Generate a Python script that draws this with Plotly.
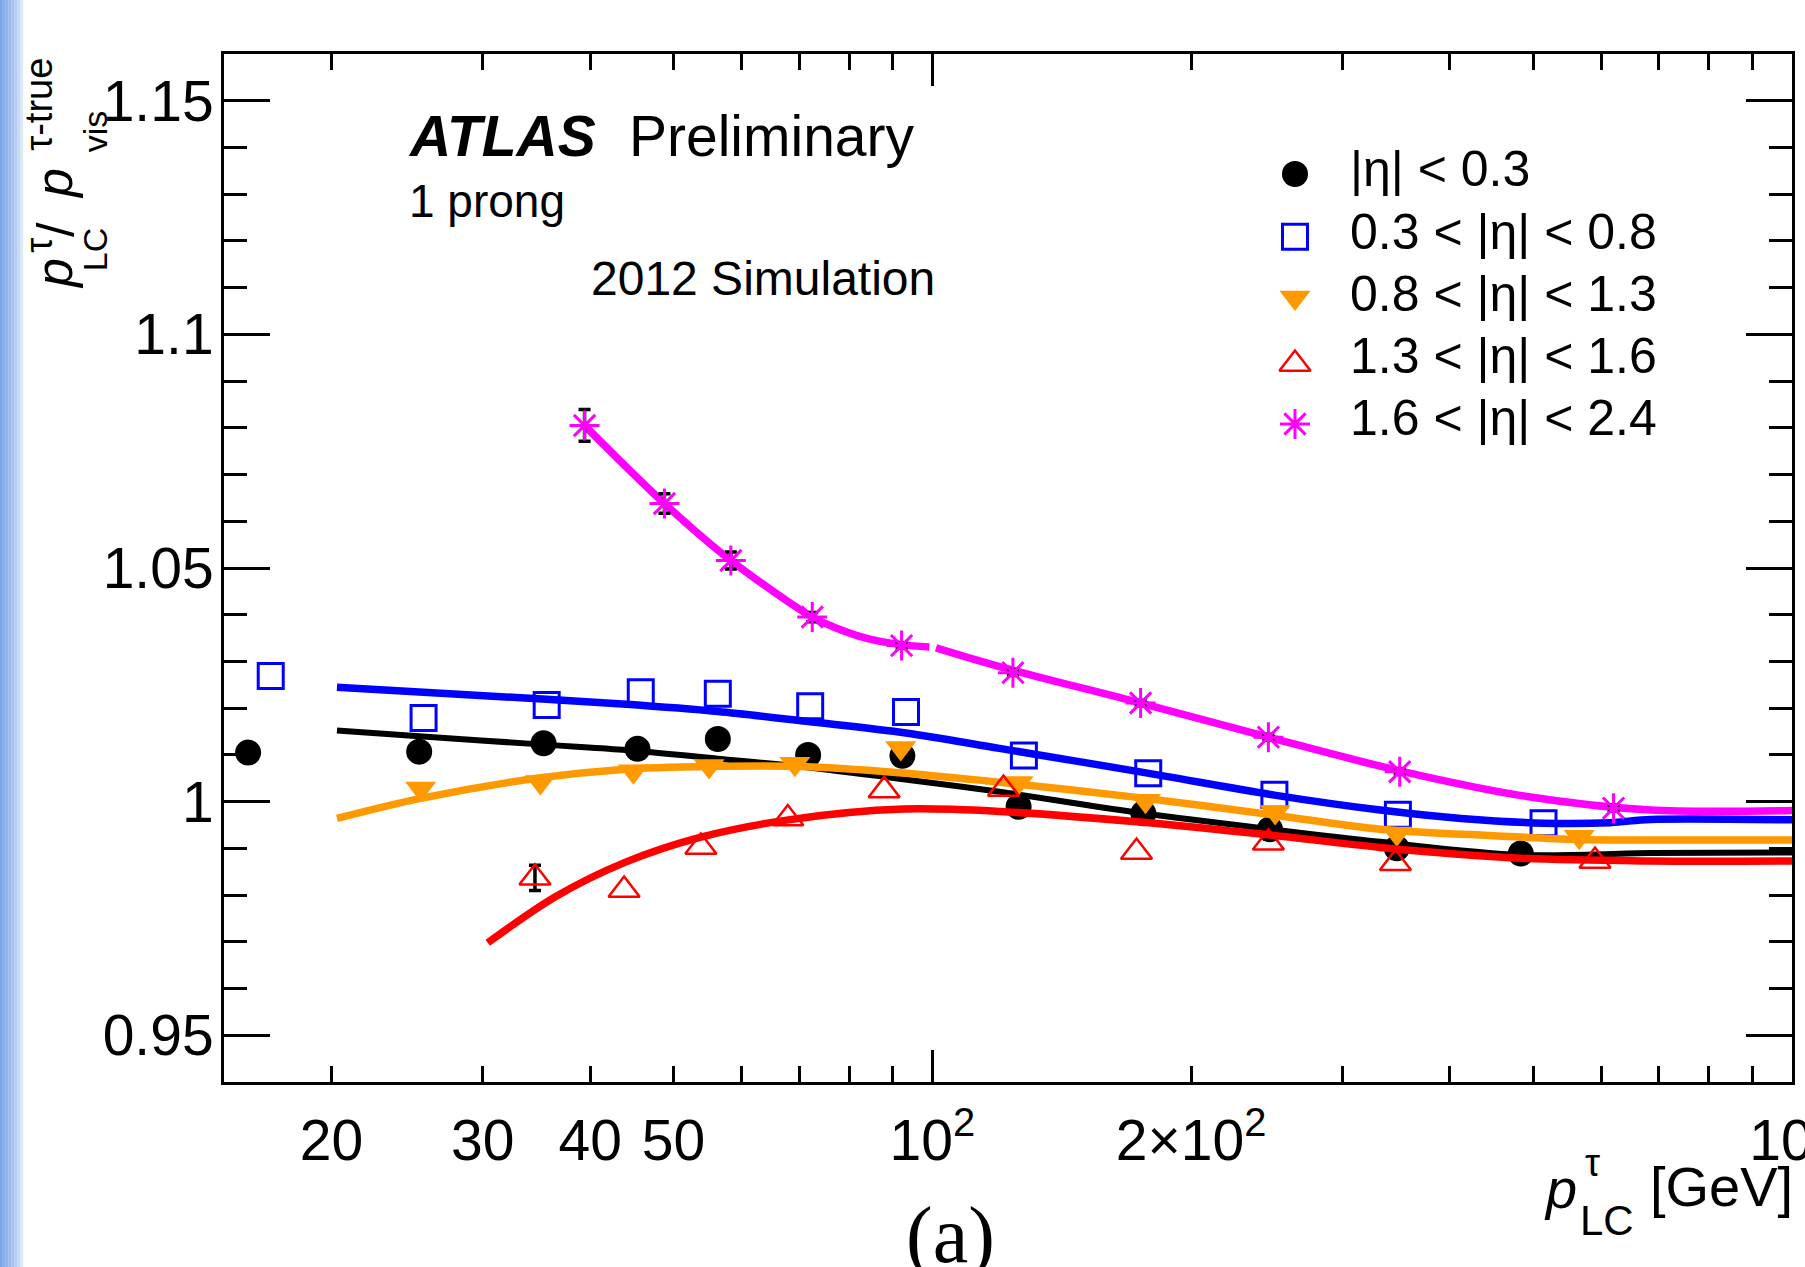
import math
import plotly.graph_objects as go

# ---------------- data ----------------
labels = ["|η| &lt; 0.3", "0.3 &lt; |η| &lt; 0.8", "0.8 &lt; |η| &lt; 1.3",
          "1.3 &lt; |η| &lt; 1.6", "1.6 &lt; |η| &lt; 2.4"]

# |eta| < 0.3
pt_eta1 = [16.0, 25.3, 35.3, 45.4, 56.3, 71.7, 92.3, 126.0, 176.0, 247.0, 347.0, 483.6]
r_eta1 = [1.0105, 1.0107, 1.0125, 1.0113, 1.0134, 1.0100, 1.0098, 0.9989, 0.9975, 0.9941, 0.9900, 0.9889]
fit_pt_eta1 = [20.3, 25.3, 35.3, 43.6, 56.3, 70.0, 91.5, 119.7, 176.0, 250.0, 332.0, 483.0, 685.0, 1000.0]
fit_r_eta1 = [1.0152, 1.0140, 1.0122, 1.0111, 1.0092, 1.0075, 1.0049, 1.0021, 0.9975, 0.9940, 0.9914, 0.9886, 0.9890, 0.9891]

# 0.3 < |eta| < 0.8
pt_eta2 = [17.0, 25.6, 35.6, 45.8, 56.3, 72.1, 93.2, 127.8, 178.3, 250.0, 348.0, 514.0]
r_eta2 = [1.0269, 1.0179, 1.0207, 1.0234, 1.0231, 1.0204, 1.0192, 1.0099, 1.0061, 1.0015, 0.9972, 0.9954]
fit_pt_eta2 = [20.3, 25.6, 35.6, 43.6, 56.3, 72.1, 93.2, 119.7, 178.0, 250.0, 332.0, 412.0, 514.0, 615.0, 685.0, 1000.0]
fit_r_eta2 = [1.0245, 1.0234, 1.0219, 1.0209, 1.0193, 1.0171, 1.0147, 1.0114, 1.0061, 1.0014, 0.9982, 0.9964, 0.9954, 0.9955, 0.9962, 0.9961]

# 0.8 < |eta| < 1.3
pt_eta3 = [25.4, 35.0, 44.9, 55.0, 69.2, 91.9, 125.8, 177.0, 250.5, 347.0, 565.6]
r_eta3 = [1.0028, 1.0042, 1.0065, 1.0076, 1.0081, 1.0115, 1.0040, 1.0002, 0.9978, 0.9932, 0.9925]
fit_pt_eta3 = [20.3, 25.4, 35.0, 43.6, 55.0, 70.0, 91.5, 113.4, 177.0, 250.5, 332.0, 450.0, 563.0, 685.0, 1000.0]
fit_r_eta3 = [0.9964, 1.0007, 1.0051, 1.0069, 1.0075, 1.0075, 1.0062, 1.0046, 1.0007, 0.9971, 0.9941, 0.9927, 0.9919, 0.9918, 0.9918]

# 1.3 < |eta| < 1.6
pt_eta4 = [34.5, 43.8, 53.8, 67.9, 87.9, 121.0, 172.8, 246.0, 345.7, 590.0]
r_eta4 = [0.9837, 0.9811, 0.9903, 0.9964, 1.0024, 1.0027, 0.9892, 0.9912, 0.9868, 0.9873]
err_eta4 = [0.0027, None, None, None, None, None, None, None, None, None]
fit_pt_eta4 = [30.4, 36.4, 43.9, 53.8, 68.0, 92.5, 119.7, 172.8, 246.0, 332.0, 483.0, 685.0, 1000.0]
fit_r_eta4 = [0.9698, 0.9796, 0.9870, 0.9924, 0.9961, 0.9984, 0.9979, 0.9957, 0.9929, 0.9902, 0.9879, 0.9873, 0.9873]

# 1.6 < |eta| < 2.4
pt_eta5 = [39.4, 48.8, 58.3, 72.5, 92.1, 124.1, 174.7, 246.0, 349.7, 620.0]
r_eta5 = [1.0805, 1.0638, 1.0516, 1.0395, 1.0334, 1.0276, 1.0211, 1.0138, 1.0064, 0.9986]
err_eta5 = [0.0034, 0.0021, 0.0018, 0.0010, 0.0006, 0.0006, 0.0006, 0.0006, 0.0006, 0.0006]
fit_pt_eta5 = [39.4, 48.8, 58.3, 72.5, 76.5, 83.7, 92.1, 99.2, None,
               101.0, 119.7, 174.7, 246.0, 349.7, 492.0, 685.0, 1000.0]
fit_r_eta5 = [1.0805, 1.0638, 1.0516, 1.0395, 1.0375, 1.0350, 1.0336, 1.0331, None,
              1.0329, 1.0289, 1.0211, 1.0138, 1.0066, 1.0011, 0.9982, 0.9981]

x_tick_vals = [20, 30, 40, 50, 100, 200, 1000]
x_tick_text = ["20", "30", "40", "50", "10<sup>2</sup>", "2×10<sup>2</sup>", "10<sup>3</sup>"]
x_minor_vals = [60, 70, 80, 90, 300, 400, 500, 600, 700, 800, 900]
x_long_vals = [100, 1000]
y_tick_vals = [0.95, 1.0, 1.05, 1.1, 1.15]
y_tick_text = ["0.95", "1", "1.05", "1.1", "1.15"]

# ---------------- geometry ----------------
W, H = 1805, 1267
ML, MR, MT, MB = 224, 13, 54, 185
PW = W - ML - MR
PH = H - MT - MB


def px_x(px):
    return (px - ML) / PW


def px_y(py):
    return (H - MB - py) / PH


FONT = "Liberation Sans, Arial, Helvetica, sans-serif"
SERIF = "Liberation Serif, Times New Roman, serif"

styles = [
    dict(color="#000000", symbol="circle", size=26, lw=0, fitw=6),
    dict(color="#0000ff", symbol="square-open", size=25, lw=3, fitw=7.5),
    dict(color="#ff9900", symbol="triangle-down", size=27, lw=0, fitw=7.5),
    dict(color="#ff0000", symbol="triangle-up-open", size=27, lw=2.5, fitw=7.5),
    dict(color="#ff00ff", symbol="asterisk", size=25, lw=3, fitw=7.5),
]

series = [
    (pt_eta1, r_eta1, None, fit_pt_eta1, fit_r_eta1),
    (pt_eta2, r_eta2, None, fit_pt_eta2, fit_r_eta2),
    (pt_eta3, r_eta3, None, fit_pt_eta3, fit_r_eta3),
    (pt_eta4, r_eta4, err_eta4, fit_pt_eta4, fit_r_eta4),
    (pt_eta5, r_eta5, err_eta5, fit_pt_eta5, fit_r_eta5),
]

fig = go.Figure()


def marker_of(st):
    return dict(symbol=st["symbol"], size=st["size"], color=st["color"],
                line=dict(color=st["color"], width=st["lw"]))


def error_trace(pt, r, err):
    xs = [p for p, e in zip(pt, err) if e is not None]
    ys = [v for v, e in zip(r, err) if e is not None]
    es = [e for e in err if e is not None]
    return go.Scatter(x=xs, y=ys, mode="markers", marker=dict(size=1, opacity=0),
                      error_y=dict(type="data", array=es, color="black", thickness=3.5,
                                   width=6, visible=True),
                      hoverinfo="skip", showlegend=False)


for i, ((pt, r, err, fpt, fr), st) in enumerate(zip(series, styles)):
    mk = go.Scatter(x=pt, y=r, mode="markers", marker=marker_of(st),
                    hoverinfo="skip", showlegend=False)
    ln = go.Scatter(x=fpt, y=fr, mode="lines",
                    line=dict(color=st["color"], width=st["fitw"], shape="spline", smoothing=0.9),
                    connectgaps=False, hoverinfo="skip", showlegend=False)
    if i == 4:
        fig.add_trace(ln)
        if err is not None:
            fig.add_trace(error_trace(pt, r, err))
        fig.add_trace(mk)
    else:
        if err is not None:
            fig.add_trace(error_trace(pt, r, err))
        fig.add_trace(mk)
        fig.add_trace(ln)

# helper trace so the long-tick overlay axis exists
fig.add_trace(go.Scatter(x=[100], y=[None], xaxis="x2", yaxis="y", mode="markers",
                         hoverinfo="skip", showlegend=False))

# manual legend (overlay axes in paper-like units)
leg_marker_x = px_x(1295)
leg_marker_py = [174, 236.7, 297.5, 364, 424]
leg_text_py = [169.4, 231.6, 293.8, 356.0, 418.2]
for st, py in zip(styles, leg_marker_py):
    fig.add_trace(go.Scatter(x=[leg_marker_x], y=[px_y(py)], xaxis="x3", yaxis="y3",
                             mode="markers", marker=marker_of(st),
                             hoverinfo="skip", showlegend=False))

annotations = []


def ann(text, x, y, size, xanchor="center", yanchor="middle", angle=0, family=FONT):
    annotations.append(dict(text=text, x=x, y=y, xref="paper", yref="paper",
                            xanchor=xanchor, yanchor=yanchor, showarrow=False,
                            textangle=angle, borderpad=0,
                            font=dict(family=family, size=size, color="black")))


for lab, py in zip(labels, leg_text_py):
    ann(lab, px_x(1349), px_y(py), 50, xanchor="left")

ann("<b><i>ATLAS</i></b>", px_x(407), px_y(135.6), 57, xanchor="left")
ann("Preliminary", px_x(628), px_y(135.6), 57, xanchor="left")
ann("1 prong", px_x(408), px_y(200.6), 46, xanchor="left")
ann("2012 Simulation", px_x(590), px_y(278), 48, xanchor="left")

# y-axis title (rotated pieces, stacked super/subscripts)
ann("<i>p</i>", px_x(54), px_y(274), 52, angle=-90)
ann("τ", px_x(38.8), px_y(245), 38, angle=-90)
ann("LC", px_x(95.2), px_y(250), 34, angle=-90)
ann("/", px_x(56), px_y(230), 52, angle=-90)
ann("<i>p</i>", px_x(54), px_y(184), 52, angle=-90)
ann("τ-true", px_x(38.8), px_y(104), 38, angle=-90)
ann("vis", px_x(95.2), px_y(131), 34, angle=-90)

# x-axis title pieces
ann("<i>p</i>", px_x(1560), px_y(1188), 56)
ann("τ", px_x(1592), px_y(1163), 38)
ann("LC", px_x(1607), px_y(1220), 42)
ann("[GeV]", px_x(1794), px_y(1186), 56, xanchor="right")

ann("(a)", px_x(950), px_y(1235), 80, family=SERIF)

# left blue strip (slide background)
strip_cols = ["#7ea6e8", "#86ace9", "#8fb2eb", "#99b9ed", "#a6c2ef", "#b4ccf1", "#c4d7f4", "#dce8f9"]
shapes = []
for k, c in enumerate(strip_cols):
    shapes.append(dict(type="rect", xref="paper", yref="paper",
                       x0=px_x(k * 2.9), x1=px_x((k + 1) * 2.9),
                       y0=px_y(H), y1=px_y(0), fillcolor=c, line=dict(width=0), layer="below"))

xr = [math.log10(15), 3]
common_ax = dict(showgrid=False, zeroline=False, tickcolor="black", tickwidth=3)

fig.update_layout(
    width=W, height=H,
    margin=dict(l=ML, r=MR, t=MT, b=MB, autoexpand=False),
    paper_bgcolor="white", plot_bgcolor="white", showlegend=False,
    font=dict(family=FONT, color="black", size=57),
    xaxis=dict(type="log", range=xr, tickmode="array", tickvals=x_tick_vals, ticktext=x_tick_text,
               ticks="inside", ticklen=16, showline=True, linewidth=3, linecolor="black",
               mirror="ticks", tickfont=dict(size=57, family=FONT), ticklabelstandoff=7,
               ticklabeloverflow="allow",
               minor=dict(tickmode="array", tickvals=x_minor_vals, ticks="inside", ticklen=16,
                          tickwidth=3, tickcolor="black", showgrid=False),
               **common_ax),
    xaxis2=dict(type="log", range=xr, overlaying="x", anchor="y", tickmode="array",
                tickvals=x_long_vals, ticks="inside", ticklen=32, showticklabels=False,
                showline=False, mirror="ticks", **common_ax),
    yaxis=dict(range=[0.94, 1.16], tickmode="array", tickvals=y_tick_vals, ticktext=y_tick_text,
               ticks="inside", ticklen=46, showline=True, linewidth=3, linecolor="black",
               mirror="ticks", tickfont=dict(size=57, family=FONT), ticklabelstandoff=-4,
               minor=dict(tickmode="linear", tick0=0.94, dtick=0.01, ticks="inside", ticklen=23,
                          tickwidth=3, tickcolor="black", showgrid=False),
               **common_ax),
    xaxis3=dict(range=[0, 1], overlaying="x", anchor="y3", visible=False),
    yaxis3=dict(range=[0, 1], overlaying="y", anchor="x3", visible=False),
    annotations=annotations,
    shapes=shapes,
)

fig.write_html("out.html")
